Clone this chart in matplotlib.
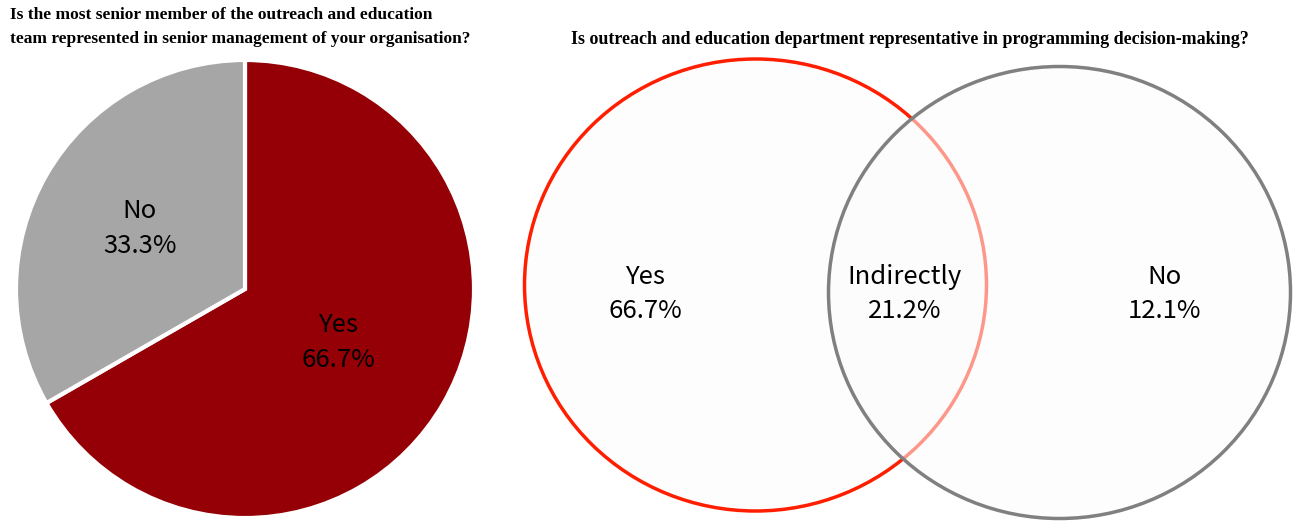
import numpy as np
import matplotlib.pyplot as plt
from matplotlib.patches import Ellipse

# pie: senior management
pie_labels = ['Yes', 'No']
pie_values = [66.7, 33.3]
pie_colors = ['#940005', '#a6a6a6']

# venn: programming decision-making
venn_labels = ['Yes', 'Indirectly', 'No']
venn_values = [66.7, 21.2, 12.1]

fig = plt.figure(figsize=(12.97, 5.21), dpi=100)
ax = fig.add_axes([0, 0, 1, 1])

lab_font = ['Noto Sans CJK SC', 'DejaVu Sans']

# Gráfico de pizza
ax.pie(pie_values, colors=pie_colors, startangle=90, counterclock=False,
       center=(245, 232), radius=229, frame=True,
       wedgeprops=dict(edgecolor='white', linewidth=3))
ax.set_xlim(0, 1297)
ax.set_ylim(0, 521)
ax.axis('off')
ax.set_aspect('auto')

ang = 90
for lab, v, d in zip(pie_labels, pie_values, [0.47, 0.53]):
    mid = np.deg2rad(ang - v * 3.6 / 2)
    ang -= v * 3.6
    ax.text(245 + d * 229 * np.cos(mid), 232 + d * 229 * np.sin(mid),
            f'{lab}\n{v}%', ha='center', va='center', fontsize=18.5,
            family=lab_font, linespacing=1.45)

fig.text(10 / 1297, 1 - 27 / 521,
         'Is the most senior member of the outreach and education\nteam represented in senior management of your organisation?',
         ha='left', va='center', fontsize=12.5, fontweight='bold',
         family='Liberation Serif', linespacing=1.6)

# Venn
ax.add_patch(Ellipse((755.5, 236), 462, 452, facecolor='#fdfdfd',
                     edgecolor='none'))
ax.add_patch(Ellipse((755.5, 236), 462, 452, facecolor='none',
                     edgecolor='#ff1e00', linewidth=2.5))
ax.add_patch(Ellipse((1059.5, 228.5), 462, 452, facecolor=(0.99, 0.99, 0.99, 0.55),
                     edgecolor='#808080', linewidth=2.5))

for x, lab, v in zip([645, 905, 1165], venn_labels, venn_values):
    ax.text(x, 521 - 294, f'{lab}\n{v}%', ha='center', va='center', fontsize=18.5,
            family=lab_font, linespacing=1.45)

fig.text(910 / 1297, 1 - 40 / 521,
         'Is outreach and education department representative in programming decision-making?',
         ha='center', va='center', fontsize=13, fontweight='bold',
         family='Liberation Serif')

fig.savefig('out.png', dpi=100, facecolor='white')
